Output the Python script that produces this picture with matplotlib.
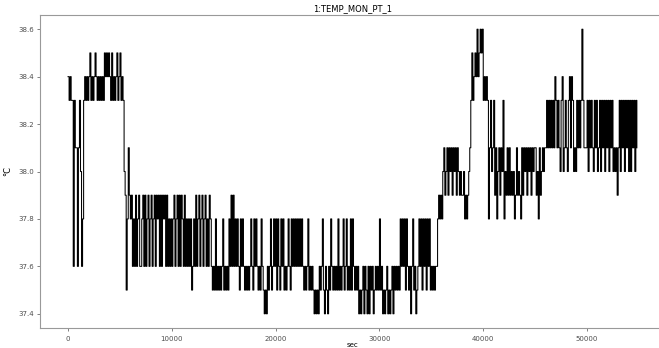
import numpy as np
import matplotlib
matplotlib.use("Agg")
import matplotlib.pyplot as plt

title = "1:TEMP_MON_PT_1"
x_label = "sec"
y_label = "°C"
sample_step_s = 100  # seconds between samples

# temperature readings (°C), one per 100 s, rows of 1000 s
temp_c = [
    38.4, 38.3, 38.4, 38.3, 38.3, 37.6, 38.3, 38.1, 38.1, 37.6,
    38.1, 38.3, 38.0, 37.6, 37.8, 38.3, 38.4, 38.3, 38.4, 38.3,
    38.4, 38.5, 38.3, 38.4, 38.3, 38.4, 38.5, 38.4, 38.3, 38.4,
    38.3, 38.4, 38.3, 38.4, 38.3, 38.5, 38.4, 38.5, 38.4, 38.5,
    38.4, 38.3, 38.5, 38.3, 38.4, 38.3, 38.4, 38.5, 38.3, 38.4,
    38.5, 38.3, 38.4, 38.3, 38.0, 37.9, 37.5, 37.8, 38.1, 37.9,
    37.8, 37.9, 37.6, 37.8, 37.6, 37.9, 37.6, 37.8, 37.9, 37.6,
    37.6, 37.8, 37.9, 37.6, 37.9, 37.6, 37.8, 37.9, 37.6, 37.8,
    37.9, 37.6, 37.8, 37.9, 37.6, 37.9, 37.8, 37.9, 37.6, 37.9,
    37.6, 37.9, 37.8, 37.9, 37.6, 37.9, 37.6, 37.8, 37.6, 37.8,
    37.6, 37.8, 37.9, 37.6, 37.8, 37.9, 37.6, 37.9, 37.6, 37.9,
    37.8, 37.6, 37.9, 37.6, 37.8, 37.6, 37.8, 37.6, 37.8, 37.5,
    37.6, 37.8, 37.6, 37.9, 37.6, 37.8, 37.9, 37.6, 37.8, 37.9,
    37.6, 37.8, 37.9, 37.6, 37.8, 37.6, 37.9, 37.8, 37.6, 37.5,
    37.6, 37.5, 37.8, 37.5, 37.6, 37.5, 37.6, 37.5, 37.6, 37.8,
    37.5, 37.6, 37.5, 37.6, 37.5, 37.8, 37.6, 37.9, 37.6, 37.9,
    37.6, 37.8, 37.6, 37.8, 37.6, 37.5, 37.8, 37.6, 37.8, 37.6,
    37.5, 37.6, 37.5, 37.6, 37.5, 37.6, 37.8, 37.6, 37.5, 37.8,
    37.6, 37.8, 37.6, 37.5, 37.6, 37.5, 37.8, 37.6, 37.5, 37.4,
    37.5, 37.4, 37.6, 37.5, 37.6, 37.8, 37.5, 37.6, 37.8, 37.6,
    37.8, 37.5, 37.8, 37.6, 37.5, 37.8, 37.6, 37.8, 37.5, 37.6,
    37.5, 37.6, 37.8, 37.6, 37.5, 37.8, 37.6, 37.8, 37.6, 37.8,
    37.6, 37.8, 37.6, 37.8, 37.6, 37.8, 37.6, 37.5, 37.6, 37.5,
    37.6, 37.8, 37.5, 37.6, 37.5, 37.6, 37.5, 37.4, 37.5, 37.4,
    37.5, 37.4, 37.6, 37.5, 37.6, 37.8, 37.5, 37.4, 37.6, 37.5,
    37.4, 37.6, 37.5, 37.8, 37.6, 37.5, 37.6, 37.5, 37.6, 37.5,
    37.8, 37.5, 37.6, 37.5, 37.6, 37.8, 37.5, 37.6, 37.8, 37.5,
    37.6, 37.5, 37.8, 37.5, 37.8, 37.6, 37.5, 37.6, 37.5, 37.6,
    37.4, 37.5, 37.4, 37.5, 37.6, 37.4, 37.6, 37.5, 37.4, 37.6,
    37.4, 37.6, 37.5, 37.6, 37.4, 37.5, 37.6, 37.5, 37.6, 37.5,
    37.8, 37.5, 37.6, 37.4, 37.5, 37.4, 37.5, 37.6, 37.4, 37.5,
    37.4, 37.5, 37.6, 37.4, 37.6, 37.5, 37.6, 37.5, 37.6, 37.5,
    37.8, 37.6, 37.8, 37.6, 37.8, 37.5, 37.8, 37.6, 37.5, 37.6,
    37.4, 37.6, 37.8, 37.5, 37.6, 37.4, 37.5, 37.6, 37.8, 37.6,
    37.8, 37.5, 37.8, 37.6, 37.8, 37.5, 37.8, 37.6, 37.8, 37.5,
    37.6, 37.5, 37.6, 37.5, 37.6, 37.6, 37.8, 37.9, 37.8, 37.9,
    37.8, 38.0, 38.1, 37.9, 38.0, 38.1, 37.9, 38.1, 38.0, 38.1,
    37.9, 38.1, 38.0, 38.1, 37.9, 38.1, 38.0, 37.9, 38.0, 37.9,
    37.9, 38.0, 37.8, 37.9, 37.8, 37.9, 38.0, 38.1, 38.3, 38.5,
    38.3, 38.4, 38.5, 38.4, 38.6, 38.4, 38.5, 38.6, 38.5, 38.6,
    38.3, 38.4, 38.3, 38.4, 38.3, 37.8, 38.1, 38.3, 38.0, 38.1,
    38.3, 37.9, 38.1, 37.8, 38.0, 38.1, 37.9, 38.1, 38.0, 38.3,
    37.8, 38.0, 37.9, 38.1, 37.9, 38.1, 37.9, 38.0, 37.9, 38.0,
    37.8, 37.9, 38.1, 37.9, 38.0, 37.9, 37.8, 38.1, 37.9, 38.1,
    38.0, 38.1, 37.9, 38.1, 38.0, 38.1, 37.9, 38.1, 38.0, 38.1,
    38.1, 37.9, 38.0, 37.8, 38.1, 37.9, 38.0, 38.1, 38.0, 38.1,
    38.1, 38.3, 38.1, 38.3, 38.1, 38.3, 38.1, 38.3, 38.1, 38.4,
    38.3, 38.1, 38.3, 38.1, 38.0, 38.3, 38.4, 38.0, 38.1, 38.3,
    38.1, 38.0, 38.3, 38.4, 38.1, 38.4, 38.3, 38.0, 38.1, 38.0,
    38.3, 38.1, 38.3, 38.1, 38.3, 38.6, 38.3, 38.1, 38.1, 38.1,
    38.3, 38.0, 38.3, 38.1, 38.3, 38.1, 38.0, 38.3, 38.1, 38.3,
    38.0, 38.1, 38.3, 38.0, 38.3, 38.1, 38.3, 38.0, 38.3, 38.1,
    38.3, 38.0, 38.3, 38.1, 38.3, 38.0, 38.1, 38.0, 38.1, 37.9,
    38.1, 38.3, 38.0, 38.3, 38.1, 38.3, 38.0, 38.3, 38.1, 38.3,
    38.0, 38.3, 38.0, 38.3, 38.1, 38.3, 38.0, 38.3, 38.1,
]
time_s = np.arange(len(temp_c)) * sample_step_s

x_ticks = [0, 10000, 20000, 30000, 40000, 50000]
y_ticks = [37.4, 37.6, 37.8, 38.0, 38.2, 38.4, 38.6]

fig = plt.figure(figsize=(6.59, 3.48), dpi=100)
ax = fig.add_axes([39.6 / 659, 20 / 348, 625.4 / 659, 313 / 348])
ax.plot(time_s, temp_c, color="black", lw=0.75, drawstyle="steps-post")
ax.set_xlim(-2740, 57510)
ax.set_ylim(37.34, 38.66)
ax.set_xticks(x_ticks)
ax.set_yticks(y_ticks)
ax.set_yticklabels([f"{v:.1f}" for v in y_ticks])
ax.tick_params(labelsize=5, length=2, width=0.5, colors="0.3", pad=2)
ax.tick_params(axis="x", pad=3.5)
for s in ax.spines.values():
    s.set_color("0.6")
    s.set_linewidth(0.8)
ax.spines["right"].set_visible(False)
ax.set_title(title, fontsize=6, pad=3)
ax.set_xlabel(x_label, fontsize=5, labelpad=0)
ax.set_ylabel(y_label, fontsize=6, labelpad=4)
fig.savefig("out.png", dpi=100)
